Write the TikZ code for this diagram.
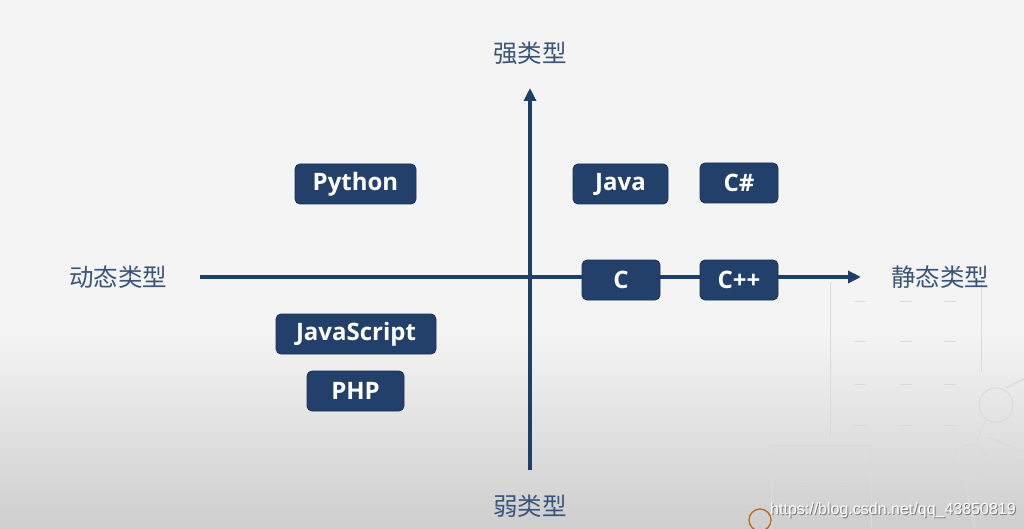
\documentclass[tikz,border=0pt]{standalone}
\usepackage{fontspec}
\setmainfont{Open Sans}
\newfontfamily\cjk{Noto Sans CJK SC}
\newfontfamily\wm{Liberation Sans}
\usetikzlibrary{arrows.meta}
\definecolor{navy}{HTML}{23406B}
\definecolor{navyedge}{HTML}{182F55}
\definecolor{axis}{HTML}{1E3F6C}
\definecolor{lbl}{HTML}{3A5579}
\definecolor{deco}{HTML}{DADADA}
\tikzset{
  lang/.style={draw=navyedge, line width=0.8pt, fill=navy, rounded corners=5pt,
    text=white, font=\bfseries\fontsize{24}{28}\selectfont, minimum height=40pt,
    inner sep=0pt, anchor=center},
  axlabel/.style={text=lbl, font=\cjk\fontsize{24.5}{28}\selectfont, inner sep=0pt},
  axline/.style={draw=axis, line width=3.2pt},
  decoline/.style={draw=deco, line width=1pt},
  wmstyle/.style={font=\wm\fontsize{16}{18}\selectfont, inner sep=0pt, anchor=west},
}
\begin{document}
\begin{tikzpicture}[x=1pt,y=-1pt]
\useasboundingbox (0,0) rectangle (1024,529);
% background
\fill[fill={rgb,255:red,244;green,244;blue,244}] (0,0) rectangle (1024,331);
\shade[top color={rgb,255:red,244;green,244;blue,244}, bottom color={rgb,255:red,206;green,206;blue,206}] (0,330) rectangle (1024,529);
% decorations
\draw[decoline] (830,282) -- (830,438);
\draw[decoline] (981,282) -- (981,372);
\foreach \yy in {301,341,384,425} {
  \draw[decoline] (854,\yy) -- (866,\yy);
  \draw[decoline] (900,\yy) -- (912,\yy);
  \draw[decoline] (944,\yy) -- (956,\yy);
}
\draw[decoline] (900,465) -- (912,465);
\draw[decoline] (900,506) -- (912,506);
\draw[decoline] (771,445) rectangle (871,535);
\draw[decoline] (797,481) -- (809,481);
\draw[decoline] (836,481) -- (848,481);
\draw[decoline] (996,405) circle (17);
\draw[decoline] (970,462) circle (17);
\draw[decoline] (1006,388) -- (1024,379);
\draw[decoline] (986,420) .. controls (980,432) .. (977,446);
\draw[decoline] (987,437) -- (1024,452);
\draw[decoline] (966,479) .. controls (968,500) .. (975,529);
\draw[decoline] (986,474) -- (1024,458);
\draw[draw={rgb,255:red,190;green,100;blue,30}, line width=1.3pt] (760,520) circle (11);
% axes
\coordinate (xl) at (200,277);
\coordinate (xr) at (861,277);
\coordinate (yb) at (530,470);
\coordinate (yt) at (530,88);
\draw[axline, -{Triangle[length=13pt,width=12pt]}] (xl) -- (xr);
\draw[axline, -{Triangle[length=13pt,width=12pt]}] (yb) -- (yt);
% axis labels
\node[axlabel] (strong) at (530,53) {强类型};
\node[axlabel] (weak) at (530,506) {弱类型};
\node[axlabel] (dyn) at (118,277) {动态类型};
\node[axlabel] (stat) at (940,277) {静态类型};
% language boxes
\node[lang, minimum width=121pt] (python) at (355.5,184) {Python};
\node[lang, minimum width=95pt] (java) at (620.5,184) {Java};
\node[lang, minimum width=78pt] (csharp) at (739,183) {C\#};
\node[lang, minimum width=78pt] (c) at (621,280) {C};
\node[lang, minimum width=78pt] (cpp) at (739,280) {C++};
\node[lang, minimum width=160pt] (js) at (356,334) {JavaScript};
\node[lang, minimum width=97pt] (php) at (355.5,391) {PHP};
% watermark
\node[wmstyle, text={rgb,255:red,120;green,120;blue,120}] (wmks) at (771,511) {https://blog.csdn.net/qq\_43850819};
\node[wmstyle, text=white] (wmk) at (770,510) {https://blog.csdn.net/qq\_43850819};
\end{tikzpicture}
\end{document}
